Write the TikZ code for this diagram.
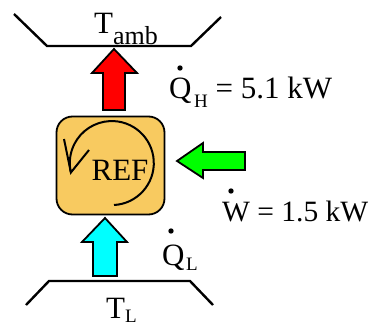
\documentclass[tikz,border=0pt]{standalone}
\usepackage{fontspec}
\setmainfont{Liberation Serif}
\definecolor{boxfill}{HTML}{F8CA60}
\definecolor{hotred}{HTML}{FF0000}
\definecolor{workgreen}{HTML}{00FF00}
\definecolor{coldcyan}{HTML}{00FFFF}
\tikzset{
  trough/.style={line width=2.4pt, line join=miter},
  fatarrow/.style={draw=black, line width=1.8pt, line join=miter},
  lbl/.style={inner sep=0pt, font=\fontsize{31}{36}\selectfont},
  sublbl/.style={inner sep=0pt, font=\fontsize{19}{22}\selectfont},
  dotmark/.style={fill=black, draw=none},
}
\begin{document}
\begin{tikzpicture}[x=1pt,y=1pt]
\useasboundingbox (0,0) rectangle (372,325);
% reservoirs
\draw[trough] (14,311) -- (47,279) -- (191,279) -- (221,308);
\draw[trough] (26,20) -- (49,44) -- (190,44) -- (213,20);
% reservoir labels
\node[lbl, anchor=base west] (tamb) at (94,292) {T};
\node[inner sep=0pt, anchor=base west, font=\fontsize{26}{30}\selectfont] (amb) at (113,281) {amb};
\node[lbl, anchor=base west] (tl) at (106,7) {T};
\node[sublbl, anchor=base west] (tlsub) at (125,3) {L};
% refrigerator box
\node[draw=black, line width=1.8pt, fill=boxfill, rounded corners=16pt,
      minimum width=108pt, minimum height=98pt, inner sep=0pt] (ref) at (110.5,159.5) {};
\node[lbl, anchor=base] (reftxt) at (120,145) {REF};
% cycle arrow
\draw[line width=2pt] (114,120) arc[start angle=-87, end angle=193, radius=42]
  coordinate (ctip);
\draw[line width=2pt, line join=miter] (64,186) -- (ctip) -- (89,175);
% heat out (red)
\draw[fatarrow, fill=hotred] (114,276) -- (137,252) -- (125,252) -- (125,215)
  -- (103,215) -- (103,252) -- (92,252) -- cycle;
% work in (green)
\draw[fatarrow, fill=workgreen] (177,164) -- (203,182) -- (203,173) -- (245,173)
  -- (245,155) -- (203,155) -- (203,147) -- cycle;
% heat in (cyan)
\draw[fatarrow, fill=coldcyan] (105,107) -- (127,83) -- (117,83) -- (117,49)
  -- (93,49) -- (93,83) -- (82,83) -- cycle;
% labels
\node[lbl, anchor=base west] (qh) at (169,227) {Q\hspace{2.5pt}{\fontsize{19}{22}\selectfont\raisebox{-9pt}{H}} = 5.1 kW};
\fill[dotmark] (180,257) circle[radius=2.7];
\node[anchor=base west, inner sep=0pt, font=\fontsize{29.5}{34}\selectfont] (w) at (222,104) {W = 1.5 kW};
\fill[dotmark] (231,134) circle[radius=2.7];
\node[lbl, anchor=base west] (ql) at (162,60) {Q\hspace{1.5pt}{\fontsize{19}{22}\selectfont\raisebox{-5pt}{L}}};
\fill[dotmark] (171,94) circle[radius=2.7];
\end{tikzpicture}
\end{document}
